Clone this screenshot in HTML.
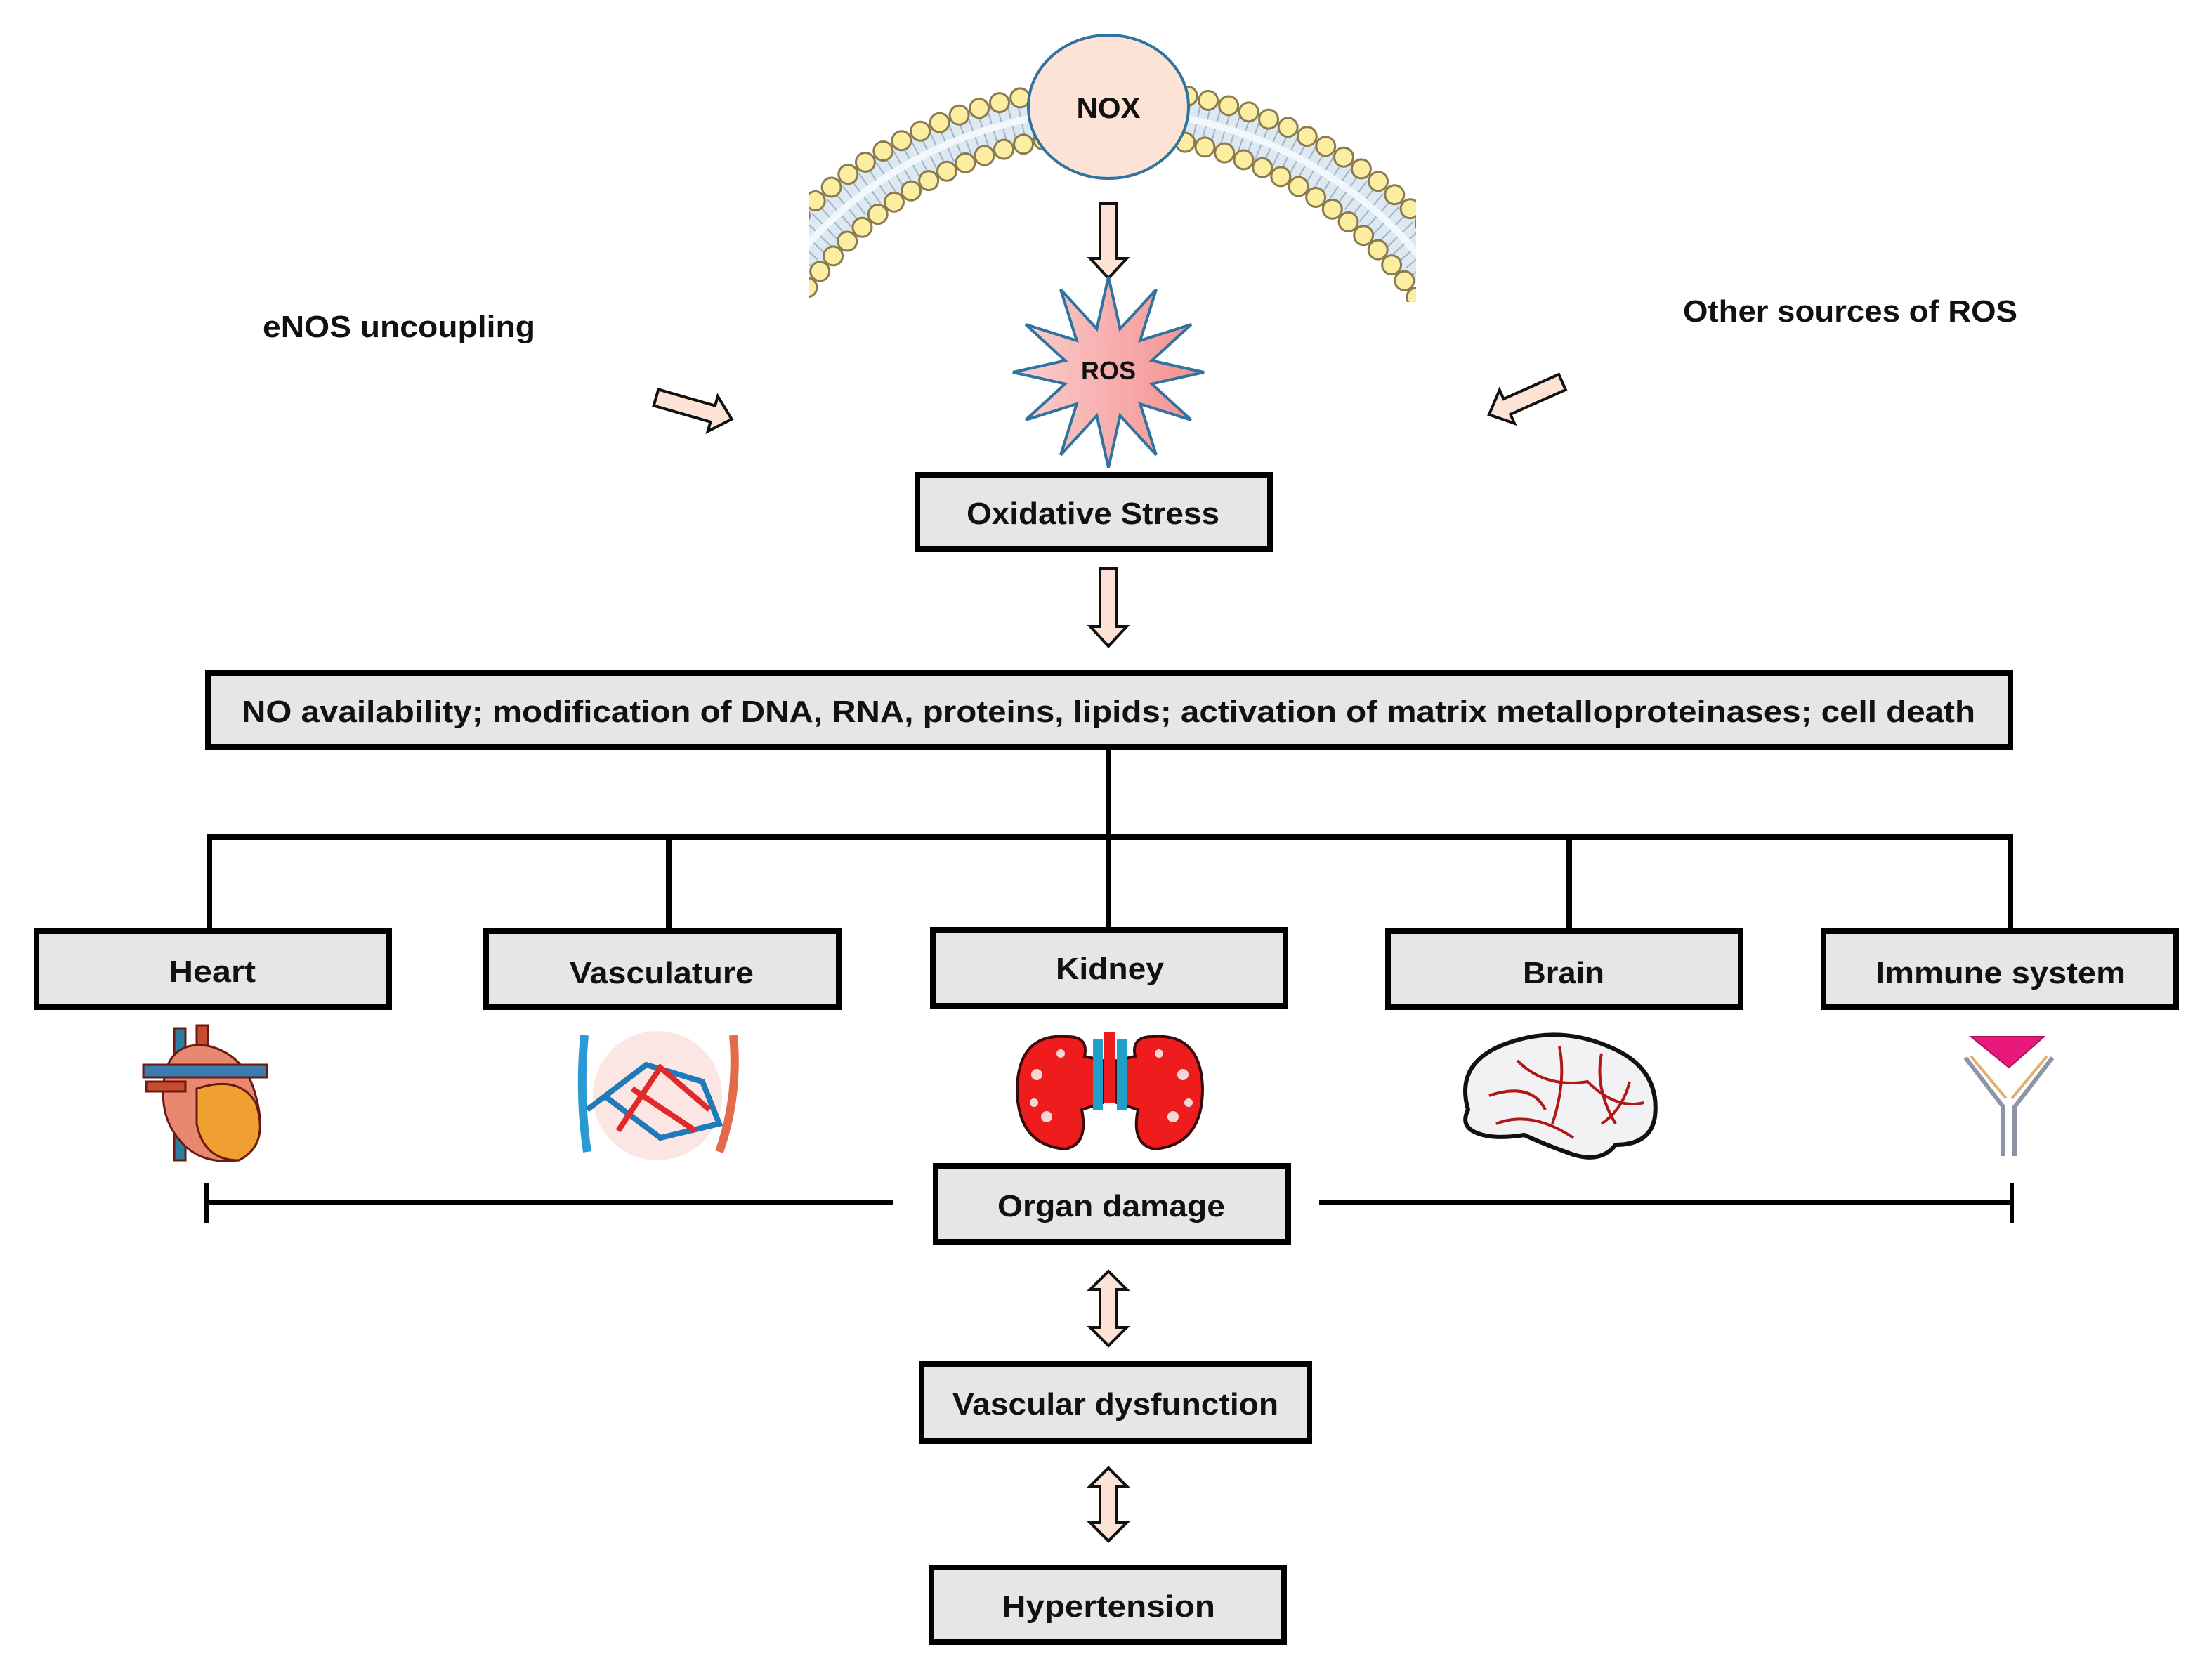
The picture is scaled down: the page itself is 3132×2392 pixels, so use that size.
<!DOCTYPE html>
<html><head><meta charset="utf-8"><style>
html,body{margin:0;padding:0;background:#fff}
svg{display:block}
text{font-family:"Liberation Sans",sans-serif;font-weight:bold;fill:#111}
</style></head><body>
<svg width="3132" height="2392" viewBox="0 0 1566 1196" xmlns="http://www.w3.org/2000/svg">
<defs>
<clipPath id="mc"><rect x="576" y="0" width="432" height="215"/></clipPath>
<linearGradient id="rg" x1="0" x2="1"><stop offset="0" stop-color="#fbd0d0"/><stop offset="1" stop-color="#f48e8e"/></linearGradient>
</defs>
<rect width="1566" height="1196" fill="#fff"/>
<!-- membrane -->
<g clip-path="url(#mc)">
<path d="M 559 193 A 289 289 0 0 1 1019 193" fill="none" stroke="#dde9f2" stroke-width="34"/>
<path d="M 559 193 A 289 289 0 0 1 1019 193" fill="none" stroke="#7f8fa0" stroke-width="26" stroke-dasharray="1 6" opacity="0.6"/>
<path d="M 559 193 A 289 289 0 0 1 1019 193" fill="none" stroke="#f2f7fb" stroke-width="5"/>
<path d="M 559 164 A 313 313 0 0 1 1019 164" fill="none" stroke="#8a7a50" stroke-width="15" stroke-dasharray="0 15" stroke-linecap="round"/>
<path d="M 559 164 A 313 313 0 0 1 1019 164" fill="none" stroke="#fbeea0" stroke-width="12" stroke-dasharray="0 15" stroke-linecap="round"/>
<path d="M 559 229 A 265 265 0 0 1 1019 229" fill="none" stroke="#8a7a50" stroke-width="15" stroke-dasharray="0 14.5" stroke-linecap="round"/>
<path d="M 559 229 A 265 265 0 0 1 1019 229" fill="none" stroke="#fbeea0" stroke-width="12" stroke-dasharray="0 14.5" stroke-linecap="round"/>
</g>
<ellipse cx="789" cy="76" rx="57" ry="51" fill="#fde3d6" stroke="#2f73a0" stroke-width="2"/>
<text x="789" y="84" font-size="21" text-anchor="middle">NOX</text>
<!-- arrows -->
<g fill="#fde3d6" stroke="#111" stroke-width="2" stroke-linejoin="miter">
<polygon points="783,145 795,145 795,184 802,184 789,198 776,184 783,184"/>
<polygon points="783,405 795,405 795,446 802,446 789,460 776,446 783,446"/>
<polygon points="789,905 802,918 795,918 795,945 802,945 789,958 776,945 783,945 783,918 776,918"/>
<polygon points="789,1045 802,1058 795,1058 795,1084 802,1084 789,1097 776,1084 783,1084 783,1058 776,1058"/>
<g transform="translate(467,283) rotate(16)"><polygon points="0,-6 42,-6 42,-13 56,0 42,13 42,6 0,6"/></g>
<g transform="translate(1112,272) rotate(156)"><polygon points="0,-6 43,-6 43,-13 57,0 43,13 43,6 0,6"/></g>
</g>
<!-- ROS -->
<polygon fill="url(#rg)" stroke="#2f73a0" stroke-width="2" points="789,197 797.3,234.1 823,206.1 811.6,242.4 847.9,231 819.9,256.7 857,265 819.9,273.3 847.9,299 811.6,287.6 823,323.9 797.3,295.9 789,333 780.7,295.9 755,323.9 766.4,287.6 730.1,299 758.1,273.3 721,265 758.1,256.7 730.1,231 766.4,242.4 755,206.1 780.7,234.1"/>
<text x="789" y="270" font-size="18" text-anchor="middle">ROS</text>
<text x="187" y="240" font-size="22" textLength="194" lengthAdjust="spacingAndGlyphs">eNOS uncoupling</text>
<text x="1198" y="229" font-size="22" textLength="238" lengthAdjust="spacingAndGlyphs">Other sources of ROS</text>
<!-- boxes -->
<g fill="#e6e6e6" stroke="#000" stroke-width="4">
<rect x="653" y="338" width="251" height="53"/>
<rect x="148" y="479" width="1283" height="53"/>
<rect x="26" y="663" width="251" height="54"/>
<rect x="346" y="663" width="251" height="54"/>
<rect x="664" y="662" width="251" height="54"/>
<rect x="988" y="663" width="251" height="54"/>
<rect x="1298" y="663" width="251" height="54"/>
<rect x="666" y="830" width="251" height="54"/>
<rect x="656" y="971" width="276" height="55"/>
<rect x="663" y="1116" width="251" height="53"/>
</g>
<g stroke="#000" stroke-width="4" fill="none">
<line x1="789" y1="533" x2="789" y2="596"/>
<line x1="147" y1="596" x2="1433" y2="596"/>
<line x1="149" y1="596" x2="149" y2="662"/>
<line x1="476" y1="596" x2="476" y2="662"/>
<line x1="789" y1="596" x2="789" y2="661"/>
<line x1="1117" y1="596" x2="1117" y2="662"/>
<line x1="1431" y1="596" x2="1431" y2="662"/>
<line x1="147" y1="856" x2="636" y2="856"/>
<line x1="939" y1="856" x2="1432" y2="856"/>
<line x1="147" y1="842" x2="147" y2="871" stroke-width="3"/>
<line x1="1432" y1="842" x2="1432" y2="871" stroke-width="3"/>
</g>
<g font-size="22" text-anchor="middle">
<text x="778" y="373" textLength="180" lengthAdjust="spacingAndGlyphs">Oxidative Stress</text>
<text x="789" y="514" textLength="1234" lengthAdjust="spacingAndGlyphs">NO availability; modification of DNA, RNA, proteins, lipids; activation of matrix metalloproteinases; cell death</text>
<text x="151" y="699" textLength="62" lengthAdjust="spacingAndGlyphs">Heart</text>
<text x="471" y="700" textLength="131" lengthAdjust="spacingAndGlyphs">Vasculature</text>
<text x="790" y="697" textLength="77" lengthAdjust="spacingAndGlyphs">Kidney</text>
<text x="1113" y="700" textLength="58" lengthAdjust="spacingAndGlyphs">Brain</text>
<text x="1424" y="700" textLength="178" lengthAdjust="spacingAndGlyphs">Immune system</text>
<text x="791" y="866" textLength="162" lengthAdjust="spacingAndGlyphs">Organ damage</text>
<text x="794" y="1007" textLength="232" lengthAdjust="spacingAndGlyphs">Vascular dysfunction</text>
<text x="789" y="1151" textLength="152" lengthAdjust="spacingAndGlyphs">Hypertension</text>
</g>
<!-- heart icon -->
<g stroke="#6b1a10" stroke-width="1.5">
<rect x="124" y="732" width="8" height="94" fill="#2a7ea0"/>
<rect x="140" y="730" width="8" height="30" fill="#c84a30"/>
<path d="M118 762 Q125 740 150 745 Q175 752 182 780 Q192 815 170 826 Q140 830 125 808 Q112 790 118 762Z" fill="#e88870"/>
<path d="M140 775 Q170 765 182 785 Q192 815 170 826 Q145 826 140 800Z" fill="#f0a030"/>
<rect x="102" y="758" width="88" height="9" fill="#3a7cb0"/>
<rect x="104" y="770" width="28" height="7" fill="#c84a30"/>
</g>
<!-- vasculature -->
<circle cx="468" cy="780" r="46" fill="#fbe0dc" opacity="0.8"/>
<path d="M416 737 Q412 780 418 820" stroke="#2a9ad6" stroke-width="6" fill="none"/>
<path d="M522 737 Q526 780 512 820" stroke="#e36a4a" stroke-width="6" fill="none"/>
<path d="M418 790 L460 758 L500 770 L512 800 L470 810 L430 780" stroke="#1e7ab8" stroke-width="4" fill="none"/>
<path d="M440 805 L470 760 L505 790 M450 775 L495 805" stroke="#e02a2a" stroke-width="4" fill="none"/>
<!-- kidney -->
<path d="M760 738 Q725 735 724 775 Q724 815 758 818 Q775 815 770 790 L785 785 L785 755 L772 752 Q775 738 760 738Z" fill="#ee1c1c" stroke="#3a0a0a" stroke-width="2"/>
<path d="M820 738 Q855 735 856 775 Q856 815 822 818 Q805 815 810 790 L795 785 L795 755 L808 752 Q805 738 820 738Z" fill="#ee1c1c" stroke="#3a0a0a" stroke-width="2"/>
<rect x="778" y="740" width="7" height="50" fill="#1ea0c8"/><rect x="795" y="740" width="7" height="50" fill="#1ea0c8"/>
<rect x="786" y="735" width="8" height="50" fill="#ee1c1c"/>
<g fill="#f4d8d8"><circle cx="738" cy="765" r="4"/><circle cx="745" cy="795" r="4"/><circle cx="755" cy="750" r="3"/><circle cx="842" cy="765" r="4"/><circle cx="835" cy="795" r="4"/><circle cx="825" cy="750" r="3"/><circle cx="736" cy="785" r="3"/><circle cx="846" cy="785" r="3"/></g>
<!-- brain -->
<path d="M1045 790 Q1035 755 1075 742 Q1110 730 1145 745 Q1182 760 1178 795 Q1175 815 1150 815 Q1140 828 1120 822 Q1100 815 1085 808 Q1060 812 1048 805 Q1040 800 1045 790Z" fill="#f2f2f4" stroke="#111" stroke-width="3"/>
<path d="M1060 780 Q1090 770 1100 790 M1080 755 Q1100 775 1130 770 Q1150 790 1170 785 M1110 745 Q1115 770 1105 800 M1140 750 Q1135 775 1150 800 M1065 800 Q1090 790 1120 810 M1160 770 Q1155 790 1140 800" stroke="#b01818" stroke-width="2" fill="none"/>
<!-- antibody -->
<polygon points="1403,738 1455,738 1430,760" fill="#e8197a" stroke="#b0105a"/>
<path d="M1399 753 L1426 788 L1426 823 M1461 753 L1434 788 L1434 823" stroke="#8a95a5" stroke-width="3" fill="none"/>
<path d="M1403 752 L1428 782 M1457 752 L1432 782" stroke="#e0b070" stroke-width="2" fill="none"/>
</svg>
</body></html>
